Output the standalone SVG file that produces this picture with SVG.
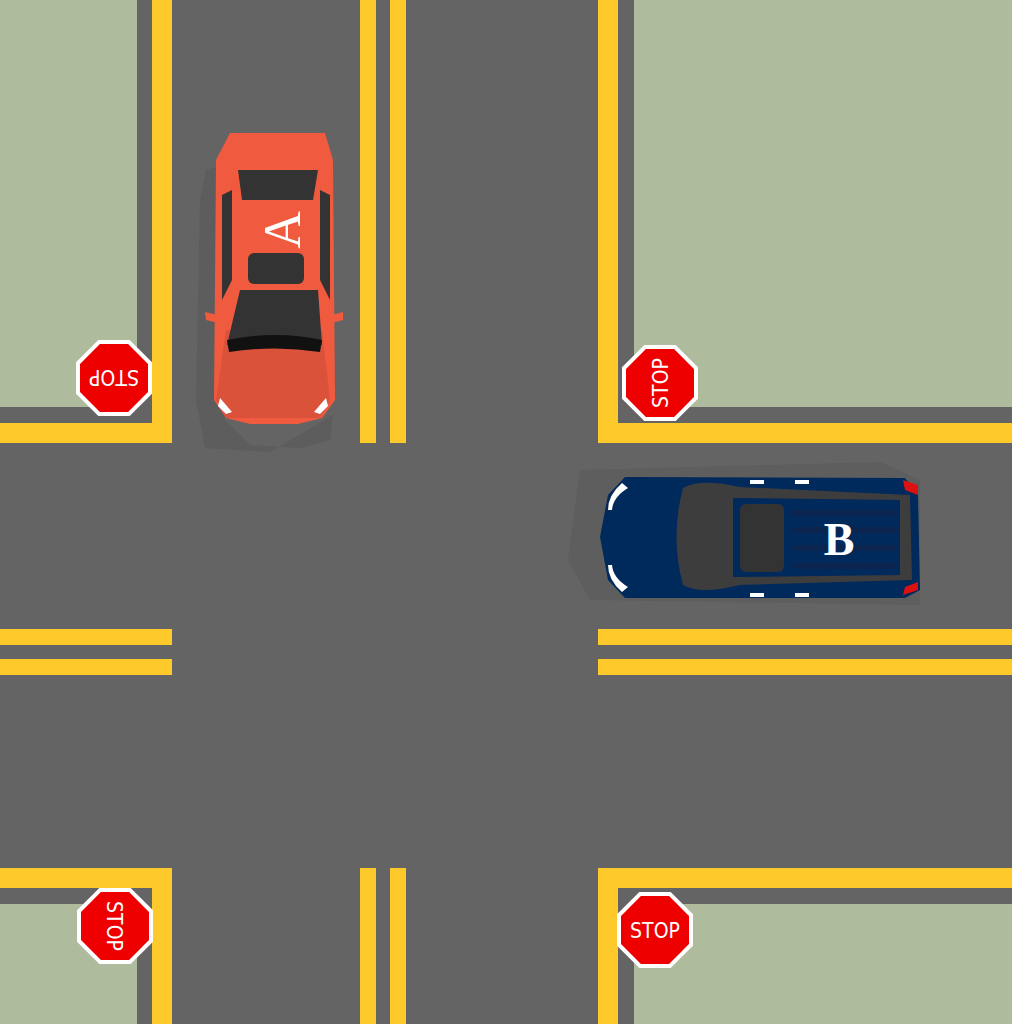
<svg xmlns="http://www.w3.org/2000/svg" width="1012" height="1024" viewBox="0 0 1012 1024">
<defs>
<style>
.y{fill:#fdc92b}.g{fill:#aebb9c}.dk{fill:#333}
.st{font-family:"Liberation Sans Narrow","DejaVu Sans Condensed",sans-serif;font-size:21px;fill:#fff;text-anchor:middle}
.lbl{font-family:"Liberation Serif",serif;font-weight:bold;font-size:46px;fill:#fff;text-anchor:middle}
</style>
<g id="octa"><polygon points="-15.7,-38 15.7,-38 38,-15.7 38,15.7 15.7,38 -15.7,38 -38,15.7 -38,-15.7" fill="#fff"/><polygon points="-14.1,-34 14.1,-34 34,-14.1 34,14.1 14.1,34 -14.1,34 -34,14.1 -34,-14.1" fill="#ee0000"/></g>
</defs>
<rect width="1012" height="1024" fill="#646464"/>
<g id="grass">
<rect class="g" x="0" y="0" width="137" height="407"/>
<rect class="g" x="634" y="0" width="378" height="407"/>
<rect class="g" x="0" y="904" width="137" height="120"/>
<rect class="g" x="634" y="904" width="378" height="120"/>
</g>
<g id="lines">
<rect class="y" x="152" y="0" width="20" height="443"/><rect class="y" x="0" y="423" width="172" height="20"/>
<rect class="y" x="598" y="0" width="20" height="443"/><rect class="y" x="598" y="423" width="414" height="20"/>
<rect class="y" x="0" y="868" width="172" height="20"/><rect class="y" x="152" y="868" width="20" height="156"/>
<rect class="y" x="598" y="868" width="414" height="20"/><rect class="y" x="598" y="868" width="20" height="156"/>
<rect class="y" x="360" y="0" width="16" height="443"/><rect class="y" x="390" y="0" width="16" height="443"/>
<rect class="y" x="360" y="868" width="16" height="156"/><rect class="y" x="390" y="868" width="16" height="156"/>
<rect class="y" x="0" y="629" width="172" height="16"/><rect class="y" x="0" y="659" width="172" height="16"/>
<rect class="y" x="598" y="629" width="414" height="16"/><rect class="y" x="598" y="659" width="414" height="16"/>
</g>
<g id="stop-tl" transform="translate(114,378) rotate(180)"><use href="#octa"/><text class="st" y="8">STOP</text></g>
<g id="stop-tr" transform="translate(660,383) rotate(-90)"><use href="#octa"/><text class="st" y="8">STOP</text></g>
<g id="stop-bl" transform="translate(115,926) rotate(90)"><use href="#octa"/><text class="st" y="8">STOP</text></g>
<g id="stop-br" transform="translate(655,930)"><use href="#octa"/><text class="st" y="8">STOP</text></g>
<g id="car-a">
<path d="M206,170 L225,165 L225,420 L250,445 L300,448 L330,440 L333,415 L270,452 L205,448 L196,400 L200,200 Z" fill="#5a5a5a" opacity="0.7"/>
<path d="M230,133 L325,133 L333,160 L335,400 L322,418 L298,424 L250,424 L226,418 L214,400 L216,160 Z" fill="#f05a3f"/>
<path d="M226,330 L322,330 L330,400 L320,418 L226,418 L216,400 Z" fill="#da523a"/>
<polygon points="238,170 318,170 313,200 242,200" class="dk"/>
<rect x="248" y="253" width="56" height="31" rx="6" class="dk"/>
<path d="M240,290 L318,290 L322,345 Q275,335 227,345 Z" class="dk"/>
<path d="M227,340 Q275,330 322,340 L320,352 Q275,345 229,352 Z" fill="#111"/>
<path d="M222,195 L232,190 L232,280 L222,300 Z" class="dk"/><path d="M330,195 L320,190 L320,280 L330,300 Z" class="dk"/>
<polygon points="205,312 222,316 222,324 206,320" fill="#f05a3f"/><polygon points="343,312 328,316 328,324 343,320" fill="#f05a3f"/>
<polygon points="220,398 232,412 226,414 218,406" fill="#fff"/><polygon points="326,398 314,412 320,414 328,406" fill="#fff"/>
<text class="lbl" transform="translate(284,230) rotate(-90)" y="16" style="font-weight:normal;font-size:52px">A</text>
</g>
<g id="car-b">
<path d="M580,470 L880,462 L920,480 L920,605 L590,600 L568,560 Z" fill="#5a5a5a" opacity="0.6"/>
<path d="M625,477 L905,478 L918,495 L920,590 L905,598 L625,598 L608,580 L600,537 L608,495 Z" fill="#00295c"/>
<path d="M683,488 Q700,478 740,487 L910,495 L912,580 L740,585 Q700,595 683,585 Q670,537 683,488 Z" fill="#3d3d3d"/>
<path d="M733,498 L900,500 L900,575 L733,577 Z" fill="#00295c"/>
<rect x="740" y="504" width="44" height="68" rx="6" class="dk"/>
<g fill="#0c2550"><rect x="792" y="510" width="105" height="6" rx="3"/><rect x="792" y="527" width="105" height="6" rx="3"/><rect x="792" y="545" width="105" height="6" rx="3"/><rect x="792" y="563" width="105" height="6" rx="3"/></g>
<path d="M903,480 L918,485 L918,495 L905,490 Z" fill="#dd1111"/><path d="M903,595 L918,590 L918,582 L905,587 Z" fill="#dd1111"/>
<path d="M622,483 Q608,495 608,510 L612,510 Q613,497 628,488 Z" fill="#fff"/><path d="M622,592 Q608,580 608,565 L612,565 Q613,578 628,587 Z" fill="#fff"/>
<rect x="750" y="480" width="14" height="4" fill="#fff"/><rect x="795" y="480" width="14" height="4" fill="#fff"/>
<rect x="750" y="593" width="14" height="4" fill="#fff"/><rect x="795" y="593" width="14" height="4" fill="#fff"/>
<text class="lbl" x="839" y="555">B</text>
</g>
</svg>
